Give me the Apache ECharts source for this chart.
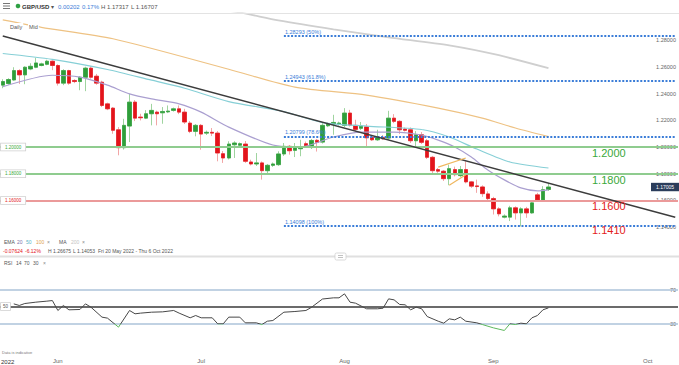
<!DOCTYPE html>
<html><head><meta charset="utf-8">
<script src="https://cdn.jsdelivr.net/npm/echarts@6/dist/echarts.min.js"></script>
<style>html,body{margin:0;padding:0;background:#fff;}#c{width:679px;height:365px;}</style>
</head><body><div id="c"></div>
<script>
// ---------- DATA ----------
const CANDLE_START = '2022-05-20', CANDLE_END = '2022-09-13', AXIS_END = '2022-10-06';
const monthNames = ['Jan','Feb','Mar','Apr','May','Jun','Jul','Aug','Sep','Oct','Nov','Dec'];
const opens  = [1.2463,1.2475,1.2502,1.2572,1.2540,1.2584,1.2597,1.2610,1.2619,1.2642,1.2610,1.2478,1.2572,1.2498,1.2490,1.2522,1.2590,1.2530,1.2485,1.2323,1.2291,1.2129,1.1995,1.2157,1.2336,1.2224,1.2216,1.2249,1.2261,1.2256,1.2263,1.2274,1.2286,1.2261,1.2179,1.2117,1.2162,1.2104,1.2110,1.2104,1.1950,1.1918,1.2017,1.2013,1.2022,1.1888,1.1873,1.1881,1.1823,1.1863,1.1868,1.1948,1.2005,1.1975,1.1987,1.2025,1.1996,1.2050,1.2037,1.2159,1.2172,1.2172,1.2162,1.2254,1.2162,1.2140,1.2151,1.2072,1.2054,1.2072,1.2067,1.2216,1.2192,1.2134,1.2129,1.2047,1.2092,1.2047,1.1923,1.1831,1.1819,1.1763,1.1831,1.1786,1.1831,1.1739,1.1709,1.1701,1.1649,1.1614,1.1537,1.1475,1.1475,1.1545,1.1507,1.1537,1.1507,1.1642,1.1604,1.1682];
const closes = [1.2490,1.2505,1.2572,1.2540,1.2597,1.2604,1.2629,1.2622,1.2642,1.2610,1.2478,1.2572,1.2478,1.2490,1.2522,1.2590,1.2522,1.2478,1.2311,1.2286,1.2125,1.1995,1.2162,1.2336,1.2216,1.2219,1.2249,1.2274,1.2249,1.2266,1.2269,1.2286,1.2261,1.2187,1.2117,1.2162,1.2097,1.2110,1.2104,1.1955,1.1918,1.2022,1.2030,1.2025,1.1893,1.1873,1.1881,1.1823,1.1863,1.1873,1.1948,1.2005,1.1972,1.1993,1.2000,1.2002,1.2049,1.2035,1.2162,1.2172,1.2184,1.2179,1.2254,1.2164,1.2132,1.2157,1.2069,1.2054,1.2072,1.2062,1.2216,1.2192,1.2129,1.2125,1.2047,1.2092,1.2035,1.1923,1.1823,1.1819,1.1763,1.1838,1.1793,1.1831,1.1739,1.1707,1.1704,1.1651,1.1614,1.1537,1.1500,1.1483,1.1545,1.1507,1.1537,1.1507,1.1582,1.1604,1.16803,1.17005];
const lows   = [1.2440,1.2466,1.2496,1.2472,1.2470,1.2575,1.2590,1.2604,1.2612,1.2575,1.2460,1.2463,1.2466,1.2478,1.2425,1.2418,1.2511,1.2466,1.2299,1.2276,1.2099,1.1938,1.1981,1.2037,1.2194,1.2199,1.2209,1.2162,1.2162,1.2174,1.2254,1.2265,1.2246,1.2172,1.2104,1.2080,1.1980,1.2090,1.2082,1.1893,1.1881,1.1907,1.1918,1.2000,1.1881,1.1862,1.1858,1.1756,1.1799,1.1851,1.1858,1.1933,1.1943,1.1925,1.1931,1.1993,1.1985,1.1966,1.2026,1.2149,1.2092,1.2160,1.2149,1.2153,1.2119,1.2127,1.2002,1.2045,1.2045,1.2052,1.2052,1.2179,1.2097,1.2116,1.2030,1.2005,1.2022,1.1910,1.1793,1.1806,1.1746,1.1714,1.1780,1.1776,1.1728,1.1694,1.1657,1.1627,1.1601,1.1495,1.1481,1.1466,1.1446,1.1457,1.14053,1.1470,1.1500,1.1593,1.1597,1.16707];
const highs  = [1.2507,1.2515,1.2597,1.2582,1.2604,1.2627,1.26675,1.2631,1.2653,1.2649,1.2619,1.2582,1.2578,1.2507,1.2530,1.2601,1.2604,1.2547,1.2496,1.2332,1.2299,1.2149,1.2211,1.2398,1.2351,1.2249,1.2276,1.2323,1.2272,1.2299,1.2311,1.2295,1.2311,1.2286,1.2194,1.2172,1.2172,1.2123,1.2142,1.2119,1.1970,1.2043,1.2043,1.2034,1.2045,1.1905,1.1955,1.1892,1.1873,1.1884,1.1968,1.2030,1.2015,1.2030,1.2054,1.2041,1.2060,1.2060,1.2179,1.2183,1.2241,1.2190,1.2291,1.2278,1.2204,1.2187,1.2172,1.2090,1.2129,1.2090,1.2271,1.2246,1.2201,1.2146,1.2146,1.2119,1.2112,1.2060,1.1933,1.1843,1.1828,1.1868,1.1853,1.1858,1.1893,1.1746,1.1756,1.1713,1.1668,1.1627,1.1549,1.1496,1.1560,1.1556,1.1549,1.1552,1.1593,1.1657,1.1707,1.17317];
// indicator lines: [candle index, value]
const ema20  = [[0,1.2451],[9,1.2537],[14,1.2523],[19,1.2463],[23,1.2398],[27,1.2360],[32,1.2323],[36,1.2261],[41,1.2149],[49,1.2015],[54,1.2000],[60,1.2075],[65,1.2112],[71,1.2112],[76,1.2090],[79,1.2052],[82,1.2000],[85,1.1925],[88,1.1828],[91,1.1754],[94,1.1694],[97,1.1672],[99,1.1679]];
const ema50  = [[0,1.2700],[9,1.2656],[19,1.2580],[27,1.2500],[33,1.2440],[41,1.2340],[51,1.2265],[58,1.2183],[66,1.2157],[76,1.2131],[81,1.2075],[86,1.1985],[92,1.1888],[99,1.1843]];
const ema100 = [[0,1.2951],[7,1.2896],[20,1.2810],[41,1.2582],[53,1.2448],[66,1.2388],[79,1.2291],[87,1.2216],[93,1.2142],[99,1.2078]];
const ma200  = [[38,1.3035],[43,1.3007],[50,1.2948],[60,1.2881],[70,1.2821],[81,1.2761],[90,1.2687],[99,1.2590]];
const trendLine = [[0,1.2831],[122,1.1474]];
const pennantUpper = [[79,1.1849],[84,1.1918]];
const pennantLower = [[81,1.1714],[84,1.1793]];
const rsi = [[2,53.1],[3,51.2],[4,53.5],[6,55.1],[8,56.3],[9,57.0],[10,45.3],[11,51.2],[12,46.1],[14,46.5],[15,53.1],[16,49.2],[18,37.5],[19,36.3],[21,25.7],[23,45.3],[24,41.4],[25,42.2],[27,43.3],[29,43.7],[31,45.3],[32,42.2],[34,36.7],[35,39.4],[36,36.7],[38,36.7],[39,29.6],[40,29.6],[41,37.5],[43,37.5],[44,30.8],[46,30.8],[47,28.8],[48,32.7],[49,33.5],[51,43.3],[53,44.1],[55,45.3],[56,49.0],[58,58.8],[60,60.2],[61,60.2],[62,64.9],[63,55.1],[64,53.9],[66,47.3],[68,47.3],[69,48.0],[70,59.0],[71,57.8],[72,52.4],[73,52.0],[74,46.1],[75,49.2],[76,47.3],[77,38.2],[79,32.7],[80,30.4],[81,35.5],[82,34.3],[83,37.5],[84,32.7],[86,30.8],[87,28.8],[89,24.9],[91,21.8],[92,29.6],[93,28.8],[94,30.4],[95,29.6],[96,36.7],[97,39.4],[98,46.1],[99,48.4]];
const levels = [{v:1.20, label:'1.20000', big:'1.2000', color:'#8fcc8f', text:'#3aa83a'},
                {v:1.18, label:'1.18000', big:'1.1800', color:'#8fcc8f', text:'#3aa83a'},
                {v:1.16, label:'1.16000', big:'1.1600', color:'#eb9a9a', text:'#e3211c'}];
const fibs = [{v:1.28293, label:'1.28293 (50%)'},{v:1.24943, label:'1.24943 (61.8%)'},{v:1.20799, label:'1.20799 (78.6%)'},{v:1.14098, label:'1.14098 (100%)'}];
const fibStart = 51, axisLastIndex = 122;
const extraLabel = {v:1.14098, text:'1.1410', color:'#e3211c'};
const lastPrice = 1.17005;
const yTicks = {min:1.12, max:1.30, step:0.02};
const rsiBands = {upper:70, mid:50, lower:30};

// ---------- CATEGORIES (Sun–Fri candles, then calendar days) ----------
function dstr(d){return d.toISOString().slice(0,10);}
const categories = [];
for (let d = new Date(CANDLE_START+'T00:00:00Z'); dstr(d) <= AXIS_END; d.setUTCDate(d.getUTCDate()+1)) {
  const s = dstr(d);
  if (s <= CANDLE_END && d.getUTCDay() === 6) continue;
  categories.push(s);
}
const candleData = opens.map((o,i)=>[o, closes[i], lows[i], highs[i]]);
const bodyData = opens.map((o,i)=>[o, closes[i], Math.min(o,closes[i]), Math.max(o,closes[i])]);

const FF = '"Liberation Sans", Arial, sans-serif';
const chart = echarts.init(document.getElementById('c'), null, {renderer:'svg'});

const RSI_GRID = {top:264, height:85};
const lowerFrac = 1 - rsiBands.lower/100;
const rsiColor = {type:'linear', x:0, y:RSI_GRID.top, x2:0, y2:RSI_GRID.top+RSI_GRID.height, global:true,
  colorStops:[{offset:0,color:'#474747'},{offset:lowerFrac,color:'#474747'},{offset:lowerFrac,color:'#5cb85c'},{offset:1,color:'#5cb85c'}]};

const levelLines = levels.map(l => ({yAxis:l.v, lineStyle:{color:l.color, width:2, type:'solid'}, label:{show:false}}));
const fibLines = fibs.map(f => [
  {coord:[fibStart, f.v], lineStyle:{color:'#3b7dd8', width:2, type:[2,1.6]},
   label:{show:true, position:'insideStartTop', formatter:f.label, color:'#3b7dd8', fontSize:5.5, fontFamily:FF, distance:1}},
  {coord:[axisLastIndex, f.v]}]);

const lineS = (data, color, width, z) => ({type:'line', data, xAxisIndex:0, yAxisIndex:0, showSymbol:false, symbol:'none',
  smooth:0.25, lineStyle:{color, width}, z, silent:true, clip:true});

chart.setOption({
  animation:false,
  grid:[{left:0,right:0,top:13.4,height:240.5},{left:0,right:0,top:RSI_GRID.top,height:RSI_GRID.height}],
  xAxis:[
    {type:'category', gridIndex:0, data:categories, boundaryGap:true, show:false},
    {type:'category', gridIndex:1, data:categories, boundaryGap:true,
     axisLine:{show:false}, axisTick:{show:false},
     axisLabel:{interval:(i,v)=> i>0 && v.slice(8)==='01', formatter:v=>monthNames[+v.slice(5,7)-1],
       fontSize:6, color:'#666', margin:9, fontFamily:FF}}
  ],
  yAxis:[
    {type:'value', gridIndex:0, position:'right', min:yTicks.min, max:yTicks.max, interval:yTicks.step,
     splitLine:{show:false}, axisLine:{show:false}, axisTick:{show:false},
     axisLabel:{inside:true, margin:2, fontSize:5.5, color:'#666', fontFamily:FF,
       formatter:v => (v < yTicks.min+0.01 || v > yTicks.max-0.01) ? '' : v.toFixed(5)}},
    {type:'value', gridIndex:1, position:'right', min:0, max:100, interval:10,
     splitLine:{show:false}, axisLine:{show:false}, axisTick:{show:false},
     axisLabel:{inside:true, margin:2, fontSize:5.5, color:'#666', fontFamily:FF,
       formatter:v => (v===rsiBands.upper||v===rsiBands.lower) ? String(v) : ''}}
  ],
  series:[
    {type:'candlestick', name:'wicks', data:candleData, xAxisIndex:0, yAxisIndex:0, barWidth:4, z:2, silent:true,
     itemStyle:{color:'rgba(0,0,0,0)', color0:'rgba(0,0,0,0)', borderColor:'#9fd49f', borderColor0:'#f2a6a6', borderWidth:1},
     markLine:{silent:true, symbol:['none','none'], animation:false, label:{show:false}, data:[...levelLines, ...fibLines]}},
    {type:'candlestick', name:'bodies', data:bodyData, xAxisIndex:0, yAxisIndex:0, barWidth:4, z:3, silent:true,
     itemStyle:{color:'#2f9e3a', color0:'#e3141b', borderColor:'#2f9e3a', borderColor0:'#e3141b', borderWidth:0.6}},
    lineS(ema20, '#aa9fd0', 1.2, 4),
    lineS(ema50, '#86cfd6', 1.2, 4),
    lineS(ema100, '#eec283', 1.2, 4),
    lineS(ma200, '#cfcfcf', 1.8, 4),
    Object.assign(lineS(trendLine, '#3c3c3c', 1.4, 5), {smooth:false}),
    Object.assign(lineS(pennantUpper, '#efb75f', 1.2, 5), {smooth:false}),
    Object.assign(lineS(pennantLower, '#efb75f', 1.2, 5), {smooth:false}),
    {type:'line', data:rsi, xAxisIndex:1, yAxisIndex:1, showSymbol:false, symbol:'none', lineStyle:{width:1, color:rsiColor}, z:5, silent:true,
     markLine:{silent:true, symbol:['none','none'], label:{show:false},
       data:[{yAxis:rsiBands.upper, lineStyle:{color:'#adc3da', width:1.5, type:'solid'}},
             {yAxis:rsiBands.lower, lineStyle:{color:'#adc3da', width:1.5, type:'solid'}},
             {yAxis:rsiBands.mid, lineStyle:{color:'#3a3a3a', width:1.5, type:'solid'}}]}}
  ]
});

// ---------- overlay texts positioned through the axes ----------
const py = v => chart.convertToPixel({yAxisIndex:0}, v);
const pr = v => chart.convertToPixel({yAxisIndex:1}, v);
const T = (x, y, text, fill, size, extra) => ({type:'text', x, y, silent:true, z:100,
  style:Object.assign({text, fill, fontSize:size, fontFamily:FF, align:'left', verticalAlign:'middle'}, extra||{})});
const g = [];
g.push({type:'rect', shape:{x:0,y:13,width:679,height:1}, style:{fill:'#e3e3e3'}, z:50});
g.push({type:'rect', shape:{x:0,y:255.5,width:679,height:2}, style:{fill:'#e0e0e0'}, z:50});
g.push({type:'rect', shape:{x:335,y:253,width:11,height:7,r:1.5}, style:{fill:'#fff', stroke:'#cfcfcf', lineWidth:0.8}, z:51});
g.push({type:'rect', shape:{x:338,y:255.3,width:5,height:0.6}, style:{fill:'#999'}, z:52});
g.push({type:'rect', shape:{x:338,y:257.2,width:5,height:0.6}, style:{fill:'#999'}, z:52});
[3.5,6,8.5].forEach(yy => g.push({type:'rect', shape:{x:3,y:yy-0.5,width:7,height:1}, style:{fill:'#777'}, z:60}));
g.push({type:'circle', shape:{cx:18, cy:6, r:2.3}, style:{fill:'#2ea043'}, z:60});
g.push(T(22, 6.5, 'GBP/USD', '#333', 6, {fontWeight:'bold'}));
g.push(T(51, 6.5, '▾', '#555', 6));
g.push(T(58, 6.5, '0.00202', '#3b7dd8', 6));
g.push(T(82, 6.5, '0.17%', '#3b7dd8', 6));
g.push(T(101, 6.5, 'H 1.17317', '#555', 6));
g.push(T(131, 6.5, 'L 1.16707', '#555', 6));
g.push(T(9, 27, 'Daily', '#555', 5.5, {backgroundColor:'#fff', padding:[1,1]}));
g.push(T(28, 27, 'Mid', '#555', 5.5, {backgroundColor:'#fff', padding:[1,1]}));
g.push(T(4, 242, 'EMA', '#555', 5));
g.push(T(17, 242, '20', '#7d72a8', 5));
g.push(T(26, 242, '50', '#55b3c5', 5));
g.push(T(36, 242, '100', '#e0a24f', 5));
g.push(T(47, 242, '×', '#888', 5));
g.push(T(59, 242, 'MA', '#555', 5));
g.push(T(71, 242, '200', '#c4c4c4', 5));
g.push(T(82, 242, '×', '#888', 5));
g.push(T(3, 251, '-0.07624', '#e3141b', 5));
g.push(T(25, 251, '-6.12%', '#e3141b', 5));
g.push(T(48, 251, 'H 1.26675', '#555', 5));
g.push(T(73, 251, 'L 1.14053', '#555', 5));
g.push(T(98, 251, 'Fri 20 May 2022 - Thu 6 Oct 2022', '#555', 5));
g.push(T(4, 262.5, 'RSI', '#555', 5));
g.push(T(16, 262.5, '14', '#555', 5));
g.push(T(24, 262.5, '70', '#555', 5));
g.push(T(33, 262.5, '30', '#555', 5));
g.push(T(43, 262.5, '×', '#888', 5));
g.push(T(2, 352.5, 'Data is indicative', '#777', 4));
g.push(T(1, 361.5, '2022', '#333', 6));
levels.forEach(l => {
  const y = py(l.v);
  g.push(T(1, y, l.label, l.text, 4.5, {backgroundColor:'#fff', borderColor:'#cfcfcf', borderWidth:0.8, padding:[1,4,1,4]}));
  g.push(T(592, y + 6, l.big, l.text, 11));
});
g.push(T(592, py(extraLabel.v) + 4.5, extraLabel.text, extraLabel.color, 11));
const yp = py(lastPrice);
g.push({type:'rect', shape:{x:651, y:yp-4.2, width:28, height:8.4}, style:{fill:'#2b3d5b'}, z:70});
g.push(T(665, yp, '1.17005', '#fff', 5, {align:'center'}));
g.push(T(1, pr(rsiBands.mid), '50', '#555', 4.5, {backgroundColor:'#fff', borderColor:'#cfcfcf', borderWidth:0.8, padding:[1,2,1,2]}));
chart.setOption({graphic:g});
</script></body></html>
